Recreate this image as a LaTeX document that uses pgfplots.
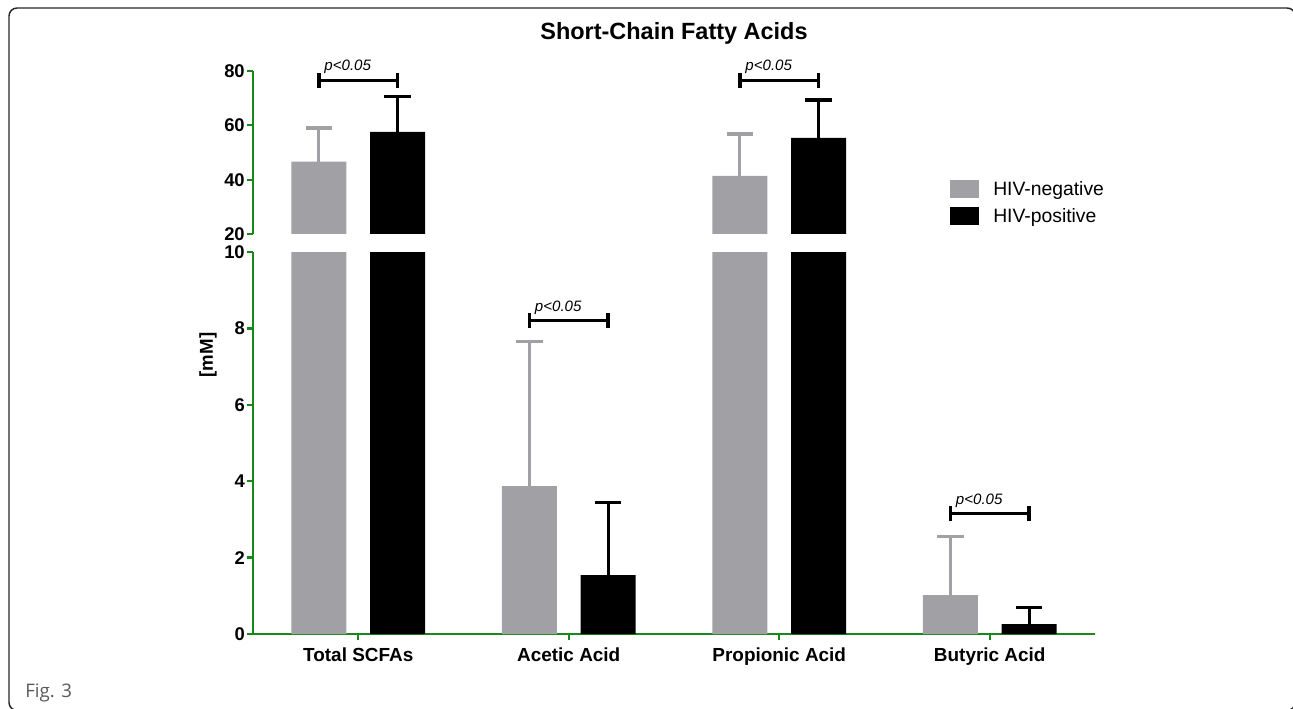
\documentclass[border=0pt]{standalone}
\usepackage{pgfplots}
\usepackage{pgfplotstable}
\pgfplotsset{compat=1.18}
\usepackage{fontspec}
\setmainfont{Liberation Sans}
\newfontfamily\figfont{Open Sans}

\definecolor{hivneg}{RGB}{161,160,165}
\definecolor{axgreen}{RGB}{24,136,24}
\definecolor{figgray}{RGB}{90,90,90}

% bar centres: category index -/+ 0.187
\pgfplotstableread{
x      y     err
-0.187 46.6  12.4
0.813  3.87  3.78
1.813  41.4  15.4
2.813  1.02  1.53
}\negtab
\pgfplotstableread{
x      y     err
0.187  57.6  12.9
1.187  1.54  1.90
2.187  55.4  13.9
3.187  0.26  0.43
}\postab

\newcommand\pbracket[3]{%
  \draw[line width=2pt] (axis cs:#1,#3) -- (axis cs:#2,#3);
  \draw[line width=2.6pt] ([yshift=-5.6pt]axis cs:#1,#3) -- ([yshift=5.6pt]axis cs:#1,#3);
  \draw[line width=2.6pt] ([yshift=-5.6pt]axis cs:#2,#3) -- ([yshift=5.6pt]axis cs:#2,#3);
  \node[anchor=base west, inner sep=0pt, font=\itshape\fontsize{11.3}{12}\selectfont]
    at ([xshift=4pt,yshift=7pt]axis cs:#1,#3) {p<0.05};
}

\pgfplotsset{
  brk/.style={
    scale only axis, width=631.5pt,
    xmin=-0.5, xmax=3.5,
    clip mode=individual,
    axis y line*=left,
    y axis line style={-, axgreen, line width=1.7pt},
    ytick style={axgreen, line width=1.7pt},
    tick align=outside, major tick length=4.5pt,
    yticklabel style={font=\bfseries\fontsize{13.8}{15}\selectfont, inner xsep=1.5pt},
    /pgf/number format/assume math mode=true,
  },
  barsty/.style={ybar, bar width=41.25pt, bar shift=0pt, draw=none},
  errneg/.style={error bars/.cd, y dir=plus, y explicit,
    error bar style={hivneg, line width=2.2pt},
    error mark options={hivneg, rotate=90, mark size=10pt, line width=2.4pt}},
  errpos/.style={error bars/.cd, y dir=plus, y explicit,
    error bar style={black, line width=2.2pt},
    error mark options={black, rotate=90, mark size=10pt, line width=2.4pt}},
}

\begin{document}
\begin{tikzpicture}
\useasboundingbox (0pt,0pt) rectangle (969.75pt,531pt);

% frame and figure tag
\draw[line width=1.1pt, black!85, rounded corners=6pt] (6.75pt,-1.8pt) rectangle (971.4pt,525pt);
\node[anchor=base west, inner sep=0pt, text=figgray, font=\figfont\fontsize{14}{16}\selectfont]
  at (18.75pt,8.25pt) {Fig. 3};

% lower segment 0--10
\begin{axis}[brk, at={(189.75pt,55.5pt)}, anchor=south west, height=286.5pt,
  ymin=0, ymax=10, ytick={0,2,...,10},
  axis x line*=bottom,
  x axis line style={-, axgreen, line width=1.7pt},
  xtick style={axgreen, line width=1.7pt},
  xtick={0,1,2,3},
  xticklabels={Total SCFAs, Acetic Acid, Propionic Acid, Butyric Acid},
  xticklabel style={font=\bfseries\fontsize{14.2}{15}\selectfont, yshift=-2pt},
]
\addplot[barsty, fill=hivneg, errneg] table[x=x, y=y, y error=err] {\negtab};
\addplot[barsty, fill=black, errpos] table[x=x, y=y, y error=err] {\postab};
\pbracket{0.813}{1.187}{8.2}
\pbracket{2.813}{3.187}{3.15}
\end{axis}

% upper segment 20--80
\begin{axis}[brk, at={(189.75pt,355.5pt)}, anchor=south west, height=122.25pt,
  ymin=20, ymax=80, ytick={20,40,60,80},
  axis x line=none,
  restrict y to domain=15:200,
  legend style={at={(rel axis cs:0.827,0.331)}, anchor=north west,
    draw=none, fill=none, inner sep=0pt, row sep=7pt,
    font=\fontsize{14.5}{16}\selectfont,
    nodes={inner sep=0pt}, column sep=11pt},
  legend cell align=left,
  legend image code/.code={\fill[#1] (0pt,-6.6pt) rectangle (21.75pt,6.6pt);},
]
\addplot[barsty, fill=hivneg, errneg] table[x=x, y=y, y error=err] {\negtab};
\addlegendentry{HIV-negative}
\addplot[barsty, fill=black, errpos] table[x=x, y=y, y error=err] {\postab};
\addlegendentry{HIV-positive}
\pbracket{-0.187}{0.187}{76.6}
\pbracket{1.813}{2.187}{76.6}
\end{axis}

\node[font=\bfseries\fontsize{17.6}{20}\selectfont, inner sep=0pt] at (505.5pt,506.25pt) {Short-Chain Fatty Acids};
\node[rotate=90, font=\bfseries\fontsize{14}{16}\selectfont, inner sep=0pt] at (156pt,264.75pt) {[mM]};
\end{tikzpicture}
\end{document}
